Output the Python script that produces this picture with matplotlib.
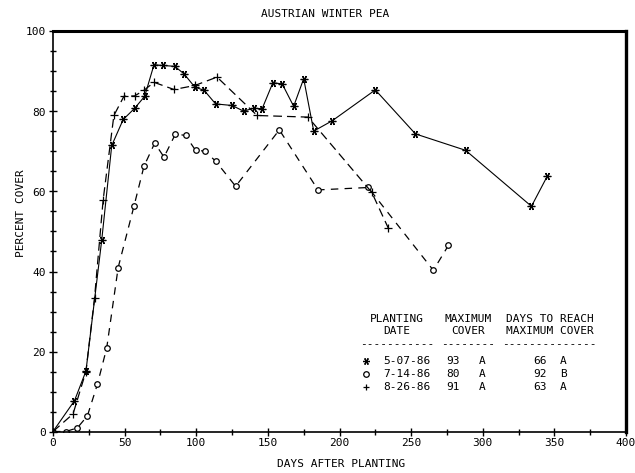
import numpy as np
import matplotlib
matplotlib.use("Agg")
import matplotlib.pyplot as plt
from matplotlib.ticker import MultipleLocator

plt.rcParams["font.family"] = "DejaVu Sans Mono"
plt.rcParams["font.size"] = 8

# percent cover vs days after planting, one series per planting date
giorni_a = [0, 15, 23, 34, 41, 49, 57, 64, 70.5, 76.5, 85, 91.5, 99, 105.5, 113.5,
            125, 133, 140, 146, 153.5, 160, 168, 175, 182, 195, 225, 253, 288, 334, 345]
cop_a = [0, 7.7, 15.1, 47.8, 71.5, 78, 80.8, 83.8, 91.7, 91.5, 91.3, 89.4, 86.1, 85.3, 81.9,
         81.5, 80.1, 80.8, 80.7, 87.2, 86.9, 81.3, 88.2, 75.1, 77.7, 85.4, 74.4, 70.3, 56.3, 63.8]

giorni_b = [0, 9, 17, 24, 31, 37.5, 45.5, 56.5, 63.5, 71, 77.5, 85.5, 92.5, 99.5, 106,
            113.5, 127.5, 158, 185, 220, 265.5, 276]
cop_b = [0, 0, 0.9, 3.9, 11.8, 20.9, 41, 56.3, 66.3, 72.1, 68.6, 74.4, 74, 70.3, 70.1,
         67.6, 61.3, 75.4, 60.4, 61, 40.3, 46.5]

giorni_c = [0, 14, 23, 29, 35, 42.5, 49.5, 57, 63.5, 70.5, 84.5, 99, 114.5, 142.5, 178, 222.5, 234]
cop_c = [0, 4.4, 15, 33.4, 57.9, 79, 83.8, 83.9, 85.3, 87.3, 85.5, 86.5, 88.6, 79, 78.6, 59.8, 50.9]

# summary table
date = ["5-07-86", "7-14-86", "8-26-86"]
max_cop = ["93", "80", "91"]
max_let = ["A", "A", "A"]
giorni_max = ["66", "92", "63"]
giorni_let = ["A", "B", "A"]

asterisco = (6, 2, 90)
simboli = [asterisco, "o", "+"]

fig = plt.figure(figsize=(6.35, 4.73), dpi=100)
ax = fig.add_axes([53/635, 41.5/473, 573/635, 400/473])

ax.plot(giorni_a, cop_a, color="black", lw=0.8, marker=asterisco, ms=5.5, mew=0.9)
ax.plot(giorni_b, cop_b, color="black", lw=0.9, ls=(0, (6, 5)), marker="o", ms=4,
        mfc="white", mew=0.9)
ax.plot(giorni_c, cop_c, color="black", lw=0.9, ls=(0, (7, 4)), marker="+", ms=6, mew=0.9)

ax.set_xlim(0, 400)
ax.set_ylim(0, 100)
ax.xaxis.set_major_locator(MultipleLocator(50))
ax.xaxis.set_minor_locator(MultipleLocator(25))
ax.yaxis.set_major_locator(MultipleLocator(20))
ax.yaxis.set_minor_locator(MultipleLocator(5))
ax.tick_params(which="major", direction="inout", length=6, width=1, labelsize=8, pad=2)
ax.tick_params(which="minor", direction="inout", length=4, width=1)

for lato, w in [("top", 2.2), ("right", 2.4), ("left", 1.2), ("bottom", 1.2)]:
    ax.spines[lato].set_linewidth(w)

fig.text(325/635, 1 - 14/473, "AUSTRIAN WINTER PEA", ha="center", va="center", fontsize=8)
fig.text(341/635, 1 - 464/473, "DAYS AFTER PLANTING", ha="center", va="center", fontsize=8)
fig.text(21/635, 1 - 213/473, "PERCENT COVER", rotation=90, ha="center", va="center", fontsize=8)

# table inside the plot
kw = dict(ha="center", va="center", fontsize=8)
ax.text(240.3, 28.1, "PLANTING", **kw)
ax.text(240.3, 25.0, "DATE", **kw)
ax.text(289.7, 28.1, "MAXIMUM", **kw)
ax.text(289.7, 25.0, "COVER", **kw)
ax.text(346.6, 28.1, "DAYS TO REACH", **kw)
ax.text(346.6, 25.0, "MAXIMUM COVER", **kw)
ax.text(240.5, 21.8, "-" * 11, **kw)
ax.text(289.7, 21.8, "-" * 8, **kw)
ax.text(346.6, 21.8, "-" * 14, **kw)

righe_y = [17.6, 14.3, 11.1]
for i, y in enumerate(righe_y):
    ax.plot([218.3], [y], color="black", marker=simboli[i], ms=4 if i == 1 else 5,
            mfc="white", mew=0.9, ls="none")
    ax.text(230.6, y, date[i], ha="left", va="center", fontsize=8)
    ax.text(274.8, y, max_cop[i], ha="left", va="center", fontsize=8)
    ax.text(299.3, y, max_let[i], ha="center", va="center", fontsize=8)
    ax.text(344.9, y, giorni_max[i], ha="right", va="center", fontsize=8)
    ax.text(356.2, y, giorni_let[i], ha="center", va="center", fontsize=8)

fig.savefig("out.png", dpi=100)
